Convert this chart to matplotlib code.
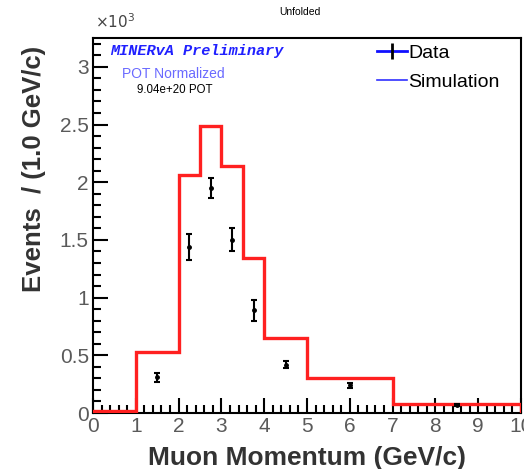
import numpy as np
import matplotlib
matplotlib.use("Agg")
import matplotlib.pyplot as plt
from matplotlib.ticker import MultipleLocator, FixedLocator
from matplotlib.lines import Line2D

# Binning of muon momentum (GeV/c) and simulated event counts (x10^3)
bin_edges = [0, 1, 2, 2.5, 3, 3.5, 4, 5, 7, 10]
sim_counts = [0.02, 0.53, 2.06, 2.49, 2.14, 1.34, 0.65, 0.30, 0.08]

# Unfolded data points (x10^3) at bin centres, with statistical errors
data_x = [1.5, 2.25, 2.75, 3.25, 3.75, 4.5, 6.0, 8.5]
data_y = [0.31, 1.44, 1.95, 1.50, 0.89, 0.42, 0.24, 0.07]
data_err = [0.04, 0.11, 0.09, 0.10, 0.09, 0.03, 0.02, 0.01]

x_ticks = [0, 1, 2, 3, 4, 5, 6, 7, 8, 9, 10]
y_ticks = [0, 0.5, 1, 1.5, 2, 2.5, 3]
y_tick_labels = ["0", "0.5", "1", "1.5", "2", "2.5", "3"]

plt.rcParams["font.family"] = ["Liberation Sans", "DejaVu Sans"]

fig = plt.figure(figsize=(5.24, 4.69), dpi=100)
ax = fig.add_axes([93 / 524, 1 - 413 / 469, (521 - 93) / 524, (413 - 38) / 469])

ax.stairs(sim_counts, bin_edges, color="#ff2020", linewidth=2.4, zorder=3)
ax.errorbar(data_x, data_y, yerr=data_err, fmt="o", color="black",
            markersize=2.5, capsize=2.5, elinewidth=1.5, capthick=1.5, zorder=4)

ax.set_xlim(0, 10)
ax.set_ylim(0, 3.25)
ax.xaxis.set_major_locator(FixedLocator(x_ticks))
ax.xaxis.set_minor_locator(MultipleLocator(0.2))
ax.yaxis.set_major_locator(FixedLocator(y_ticks))
ax.set_yticklabels(y_tick_labels)
ax.yaxis.set_minor_locator(MultipleLocator(0.1))
ax.tick_params(which="both", direction="in", top=False, right=False,
               colors="black", labelcolor="#5a5a5a", labelsize=15, width=1.5)
ax.tick_params(which="major", length=11, pad=3)
ax.tick_params(which="minor", length=6)
for s in ax.spines.values():
    s.set_linewidth(1.5)

ax.set_xlabel("Muon Momentum (GeV/c)", fontsize=19, fontweight="bold",
              color="#333333")
ax.set_ylabel("Events  / (1.0 GeV/c)", fontsize=18.5, fontweight="bold",
              color="#333333")
ax.yaxis.set_label_coords(-0.11, 0.65)
ax.xaxis.set_label_coords(0.5, -0.088)

fig.text(95 / 524, 1 - 22 / 469, r"$\times10^{3}$", fontsize=11,
         color="#444444", va="center", ha="left")
fig.text(300 / 524, 1 - 12 / 469, "Unfolded", fontsize=7.5, color="black",
         ha="center", va="center")

ax.text(0.04, 0.965, "MINERvA Preliminary", transform=ax.transAxes,
        fontsize=11, color="#2020ff", fontstyle="italic", fontweight="bold",
        family="Liberation Mono", va="center", ha="left")
ax.text(0.068, 0.905, "POT Normalized", transform=ax.transAxes,
        fontsize=10, color="#6a6aff", va="center", ha="left")
ax.text(0.103, 0.862, "9.04e+20 POT", transform=ax.transAxes,
        fontsize=8.3, color="black", va="center", ha="left")

# Legend
handles = [
    (Line2D([], [], color="#1010ff", linewidth=2),
     Line2D([], [], color="black", marker="|", markersize=12,
            markeredgewidth=2, linestyle="none")),
    Line2D([], [], color="#3030ff", linewidth=1.2),
]
fig.legend(handles, ["Data", "Simulation"], loc="upper left",
           bbox_to_anchor=(377 / 524, 1 - 44 / 469), frameon=False,
           handlelength=1.55, handletextpad=0.05, labelspacing=0.6,
           borderpad=0, borderaxespad=0,
           prop={"family": "Liberation Sans", "size": 14})

fig.savefig("out.png", dpi=100)
